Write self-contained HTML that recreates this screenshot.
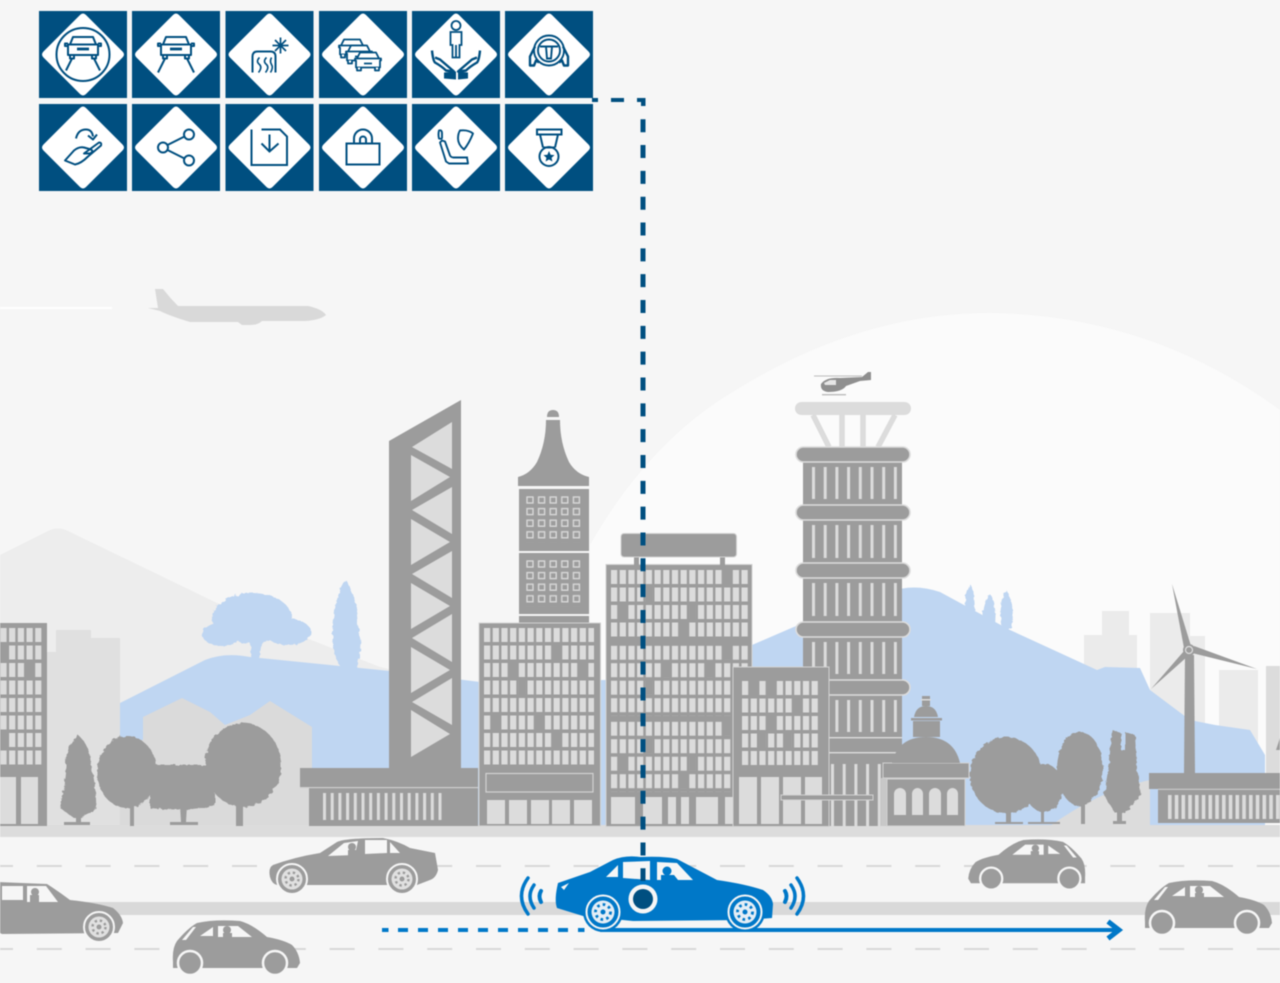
<!DOCTYPE html>
<html lang="en">
<head>
<meta charset="utf-8">
<title>City traffic diagram</title>
<style>
html,body{margin:0;padding:0;background:#f6f6f6;overflow:hidden}
svg{display:block;filter:blur(.45px)}
</style>
</head>
<body>
<svg xmlns="http://www.w3.org/2000/svg" width="1280" height="983" viewBox="0 0 1280 983">
<defs>
<pattern id="w" width="8.7" height="17.5" patternUnits="userSpaceOnUse"><rect width="6.2" height="14" fill="#dcdcdc"/></pattern>
<pattern id="sq" width="11.6" height="11.6" patternUnits="userSpaceOnUse"><rect x="1" y="1" width="6" height="6" fill="none" stroke="#d8d8d8" stroke-width="1.4"/></pattern>
<pattern id="vl" width="11.7" height="40" patternUnits="userSpaceOnUse"><rect width="3" height="40" fill="#dcdcdc"/></pattern>
<pattern id="vs" width="7.7" height="40" patternUnits="userSpaceOnUse"><rect width="3" height="40" fill="#dcdcdc"/></pattern>
<pattern id="vr" width="6.75" height="40" patternUnits="userSpaceOnUse"><rect width="3.6" height="40" fill="#dcdcdc"/></pattern>
<filter id="j" x="-10%" y="-10%" width="120%" height="120%"><feTurbulence type="fractalNoise" baseFrequency="0.22" numOctaves="2" seed="4"/><feDisplacementMap in="SourceGraphic" scale="4"/></filter>
<g id="carf" fill="none" stroke="#004f80" stroke-width="2" stroke-linejoin="round">
  <path d="M-10,-17.500H10L13,-10H-13Z"/>
  <path d="M-15,-10H15V0.500H-15Z"/>
  <path d="M-15,-11H-18V-8.500H-15M15,-11H18V-8.500H15"/>
  <path d="M-13,0.500V4H-9V0.500M13,0.500V4H9V0.500"/>
  <path d="M-6,-5.500H6" stroke-width="2.800"/>
</g>
<g id="car3" fill="#fff" stroke="#004f80" stroke-width="1.800" stroke-linejoin="round">
  <path d="M-8,-9H8L11,-3H13V-1H12V6H-12V-1H-13V-3H-11Z"/>
  <path d="M-11,-3H11M-4,2H4"/>
  <path d="M-11,6V9H-7V6M11,6V9H7V6"/>
</g>
<g id="smallcar">
  <path fill="#9c9c9c" d="M173,962Q172,948 177,941Q188,928 197,923Q215,919 240,921Q252,924 267,937Q284,940 292,945Q299,952 300,963L297,968H173Z"/>
  <path fill="#f6f6f6" d="M200,936L213,927V936ZM218,926H238L252,937H218Z"/>
  <path fill="#f6f6f6" d="M182,940L193,927L196,927L186,940Z"/>
  <circle cx="190" cy="963" r="12" fill="#9c9c9c" stroke="#f6f6f6" stroke-width="2.500"/>
  <circle cx="275" cy="963" r="12" fill="#9c9c9c" stroke="#f6f6f6" stroke-width="2.500"/>
  <circle cx="227" cy="930" r="4" fill="#9c9c9c"/><rect x="223" y="933" width="9" height="6" fill="#9c9c9c"/>
</g>
<g id="gw">
  <circle r="15" fill="#9c9c9c" stroke="#f6f6f6" stroke-width="2"/>
  <circle r="10.500" fill="#e0e0e0"/>
  <circle r="6.500" fill="none" stroke="#9c9c9c" stroke-width="2.400" stroke-dasharray="2.400 2.800"/>
  <circle r="2.500" fill="#9c9c9c"/>
</g>
<g id="bw">
  <circle r="20" fill="#0078c8"/>
  <circle r="16.500" fill="#0078c8" stroke="#f6f6f6" stroke-width="2"/>
  <circle r="11.500" fill="#e4eef6"/>
  <circle r="7.500" fill="none" stroke="#0078c8" stroke-width="2.800" stroke-dasharray="2.600 3.200"/>
  <circle r="2.500" fill="#0078c8"/>
</g>
<rect id="tile" x="-44" y="-43.500" width="88" height="87" fill="#004f80"/>
<path id="dia" d="M-3,-39.500Q0,-42.500 3,-39.500L39.500,-3Q42.500,0 39.500,3L3,39.500Q0,42.500 -3,39.500L-39.500,3Q-42.500,0 -39.500,-3Z" fill="#fff"/>
</defs>

<rect width="1280" height="983" fill="#f6f6f6"/>

<!-- far hill -->
<path d="M590,545Q650,440 736,390Q860,313 990,313Q1150,315 1280,410V830H590Z" fill="#fbfbfb"/>

<!-- plane -->
<line x1="0" y1="308" x2="112" y2="308" stroke="#fff" stroke-width="2"/>
<g fill="#d9d9d9">
  <path d="M148,308L158,308L155,289H163Q170,298 178,306H308Q322,309 326,315Q320,320 305,321H262Q258,325 250,325H242L238,322H190Q170,316 160,311Z"/>
</g>

<!-- pale mountain and background buildings -->
<path d="M0,555L48,531Q58,526 68,531L217,603L380,667L480,690V730H0Z" fill="#ededed"/>
<path d="M47,652H56V630H91V638H120V826H47Z" fill="#e0e0e0"/>
<g fill="#ebebeb">
  <path d="M1084,635H1102V611H1129V635H1137V700H1084Z"/>
  <path d="M1150,613H1190V636H1205V750H1150Z"/>
  <path d="M1219,670H1258V750H1219Z"/>
</g>
<rect x="1266" y="666" width="14" height="110" fill="#dcdcdc"/>

<!-- blue hill -->
<path d="M120,703L205,660Q225,652 250,657L400,672L480,682L606,680L752,645L803,623L890,592Q913,583 940,592L1010,630L1097,670L1105,667L1140,668L1150,690L1190,720L1215,725L1250,730L1265,755V826H120Z" fill="#bfd6f2"/>
<!-- blue trees -->
<g fill="#bfd6f2" filter="url(#j)">
  <ellipse cx="252" cy="618" rx="40" ry="25"/>
  <ellipse cx="222" cy="634" rx="20" ry="12"/>
  <ellipse cx="288" cy="632" rx="23" ry="13"/>
  <path d="M250,640H262L259,660H252Z"/>
  <path d="M343,670Q330,655 333,625Q335,595 346,580Q358,600 358,625Q364,650 355,670Z"/>
  <path d="M966,612Q963,595 970,584Q976,595 975,612Z"/>
  <path d="M984,625Q980,605 990,594Q997,605 995,625Z"/>
  <path d="M1002,628Q998,600 1006,590Q1014,600 1012,628Z"/>
</g>
<!-- pale houses -->
<path d="M143,717L182,698L210,712L225,725L250,715L270,701L312,727V826H120V740H143Z" fill="#dadada"/>
<path d="M1050,826Q1100,790 1150,780V826Z" fill="#dcdcdc"/>

<!-- ground -->
<rect y="825" width="1280" height="12" fill="#dcdcdc"/>

<!-- gray trees -->
<g fill="#9c9c9c">
  <g filter="url(#j)">
    <path d="M78,735Q90,745 91,765Q97,790 96,808L82,818H74L60,808Q65,785 66,765Q66,745 78,735Z"/>
    <ellipse cx="127" cy="772" rx="30" ry="36"/>
    <path d="M150,765H215V805Q190,812 150,808Z"/>
    <ellipse cx="243" cy="765" rx="38" ry="42"/>
    <ellipse cx="1006" cy="775" rx="36" ry="38"/>
    <ellipse cx="1044" cy="788" rx="19" ry="24"/>
    <ellipse cx="1080" cy="769" rx="23" ry="37"/>
    <path d="M1112,730L1121,733V750H1125V732L1135,735L1137,770L1141,795L1125,813H1115L1104,795L1109,765Z"/>
  </g>
  <rect x="76" y="812" width="5" height="12"/><rect x="64" y="822" width="26" height="3"/>
  <rect x="130" y="805" width="4" height="21"/>
  <path d="M180,805H187L186,822H198V825H170V822H181Z"/>
  <rect x="236" y="800" width="7" height="26"/>
  <rect x="1006" y="805" width="5" height="19"/><rect x="995" y="822" width="28" height="2"/>
  <rect x="1041" y="805" width="3" height="19"/><rect x="1028" y="822" width="32" height="2"/>
  <rect x="1081" y="800" width="4" height="24"/>
  <rect x="1117" y="810" width="5" height="14"/><rect x="1113" y="821" width="13" height="3"/>
</g>

<!-- left edge building -->
<g>
  <rect x="-2" y="623" width="49" height="203" fill="#9c9c9c"/>
  <g transform="translate(0.400,628)"><rect width="41" height="140" fill="url(#w)"/></g>
  <rect x="0" y="645" width="7" height="15" fill="#9c9c9c"/>
  <rect x="26" y="662" width="8" height="15" fill="#9c9c9c"/>
  <rect x="0" y="732" width="7" height="15" fill="#9c9c9c"/>
  <rect x="0" y="777" width="16" height="47" fill="#dcdcdc"/><rect x="21" y="777" width="17" height="47" fill="#dcdcdc"/>
</g>

<!-- truss tower -->
<path d="M389,441L461,400V768H389Z" fill="#9c9c9c"/>
<g fill="#dcdcdc">
  <path d="M412,447L452,422V469Z"/><path d="M411,455V501L450,477Z"/>
  <path d="M452,487V534L412,510Z"/><path d="M411,519V565L450,542Z"/>
  <path d="M452,551V598L412,574Z"/><path d="M411,583V629L450,606Z"/>
  <path d="M452,614V662L412,638Z"/><path d="M411,647V693L450,670Z"/>
  <path d="M452,678V725L412,702Z"/><path d="M411,710V757L450,734Z"/>
</g>
<rect x="300" y="768" width="178" height="19" fill="#9c9c9c"/>
<rect x="309" y="788" width="169" height="38" fill="#9c9c9c"/>
<rect x="300" y="787" width="178" height="1.200" fill="#cfcfcf"/>
<g transform="translate(323,793)"><rect width="121" height="27" fill="url(#vs)"/></g>

<!-- spire tower -->
<g>
  <path d="M518,486V477Q530,474 537,462Q546,443 546,420H560Q560,443 569,462Q576,474 589,477V486Z" fill="#9c9c9c"/>
  <path d="M547,417Q547,410 553,410Q559,410 559,417Z" fill="#9c9c9c"/>
  <rect x="519" y="489" width="70" height="62" fill="#9c9c9c"/>
  <rect x="519" y="553" width="70" height="61" fill="#9c9c9c"/>
  <rect x="519" y="616" width="70" height="8" fill="#9c9c9c"/>
  <g transform="translate(526,496)"><rect width="58" height="46.400" fill="url(#sq)"/></g>
  <g transform="translate(526,560)"><rect width="58" height="46.400" fill="url(#sq)"/></g>
</g>

<!-- building 3 -->
<rect x="479" y="623" width="121.500" height="203" fill="#9c9c9c" stroke="#d2d2d2"/>
<g transform="translate(484,628)">
  <rect width="110" height="140" fill="url(#w)"/>
  <path fill="#9c9c9c" d="M69.400,17.300h6.600v14.400h-6.600zM25.900,34.800h6.600v14.400h-6.600zM95.500,34.800h6.600v14.400h-6.600zM34.600,52.300h6.600v14.400h-6.600zM8.500,87.300h6.600v14.400h-6.600zM52,87.300h6.600v14.400h-6.600zM69.400,104.800h6.600v14.400h-6.600z"/>
</g>
<rect x="486" y="773.500" width="107" height="18.500" fill="none" stroke="#d2d2d2" stroke-width="1.200"/>
<g fill="#dcdcdc"><rect x="487" y="800" width="18" height="24"/><rect x="509" y="800" width="18" height="24"/><rect x="531" y="800" width="18" height="24"/><rect x="552" y="800" width="18" height="24"/><rect x="574" y="800" width="18" height="24"/></g>

<!-- building 4 -->
<rect x="606" y="564.500" width="146" height="262" fill="#9c9c9c" stroke="#d2d2d2"/>
<rect x="634" y="556" width="5" height="9" fill="#9c9c9c"/><rect x="720" y="556" width="5" height="9" fill="#9c9c9c"/>
<rect x="621" y="533.500" width="115.500" height="23.500" rx="3" fill="#9c9c9c" stroke="#d2d2d2"/>
<g transform="translate(611,570)">
  <rect width="139" height="70" fill="url(#w)"/>
  <path fill="#9c9c9c" d="M112.900,-.2h6.600v14.400h-6.600zM34.600,17.300h6.600v14.400h-6.600zM8.500,34.800h6.600v14.400h-6.600zM78.100,34.800h6.600v14.400h-6.600zM69.400,52.300h6.600v14.400h-6.600z"/>
</g>
<g transform="translate(611,645.700)">
  <rect width="139" height="70" fill="url(#w)"/>
  <path fill="#9c9c9c" d="M112.900,-.2h6.600v14.400h-6.600zM52,17.300h6.600v14.400h-6.600zM95.500,17.300h6.600v14.400h-6.600zM34.600,34.800h6.600v14.400h-6.600z"/>
</g>
<g transform="translate(611,721.700)">
  <rect width="122" height="70" fill="url(#w)"/>
  <path fill="#9c9c9c" d="M112.900,-.2h6.600v14.400h-6.600zM34.600,17.300h6.600v14.400h-6.600zM8.500,34.800h6.600v14.400h-6.600zM78.100,34.800h6.600v14.400h-6.600zM69.400,52.300h6.600v14.400h-6.600z"/>
</g>
<g fill="#dcdcdc"><rect x="611" y="797" width="24" height="27"/><rect x="643" y="797" width="19" height="27"/><rect x="668" y="797" width="8" height="27"/><rect x="681" y="797" width="8" height="27"/><rect x="696" y="797" width="22" height="27"/><rect x="725" y="797" width="8" height="27"/></g>

<!-- striped tower -->
<g>
  <rect x="795" y="402" width="116" height="13" rx="6.500" fill="#dcdcdc"/>
  <g stroke="#dcdcdc" stroke-width="5.500" fill="none">
    <path d="M813,415L829,447M842,415V447M863,415V447M895,415L878,447"/>
  </g>
  <rect x="803" y="462" width="99" height="364" fill="#9c9c9c"/>
  <g transform="translate(812,467)"><rect width="85" height="32" fill="url(#vl)"/></g>
  <g transform="translate(812,525)"><rect width="85" height="33" fill="url(#vl)"/></g>
  <g transform="translate(812,583)"><rect width="85" height="33" fill="url(#vl)"/></g>
  <g transform="translate(812,642)"><rect width="85" height="32" fill="url(#vl)"/></g>
  <g transform="translate(812,700)"><rect width="85" height="32" fill="url(#vl)"/></g>
  <g fill="#9c9c9c" stroke="#dcdcdc" stroke-width="1.600">
    <rect x="796" y="447" width="114" height="15" rx="7.500"/>
    <rect x="796" y="505" width="114" height="15" rx="7.500"/>
    <rect x="796" y="563" width="114" height="15" rx="7.500"/>
    <rect x="796" y="622" width="114" height="15" rx="7.500"/>
    <rect x="796" y="680" width="114" height="15" rx="7.500"/>
  </g>
  <rect x="803" y="737" width="99" height="1.400" fill="#dcdcdc"/>
  <rect x="803" y="752" width="99" height="1.400" fill="#dcdcdc"/>
  <g transform="translate(831,764)"><rect width="50" height="62" fill="url(#vl)"/></g>
</g>

<!-- helicopter -->
<g fill="#8f8f8f">
  <path d="M821,384Q826,377 840,378L862,377L868,372H871V380L860,381L846,386Q842,392 828,392Q820,391 821,384Z"/>
  <rect x="814" y="375.500" width="48" height="1" fill="#bcbcbc"/>
  <rect x="822" y="394" width="24" height="1.400" fill="#bcbcbc"/>
  <path d="M824,383L830,380H836V385H825Z" fill="#e6e6e6"/>
</g>

<!-- building 5 -->
<rect x="733" y="667" width="96" height="159.500" fill="#9c9c9c" stroke="#d2d2d2"/>
<g transform="translate(742,681)">
  <rect width="78" height="87" fill="url(#w)"/>
  <path fill="#9c9c9c" d="M8.500,-.2h6.600v14.400h-6.600zM25.900,-.2h6.600v14.400h-6.600zM52,17.300h6.600v14.400h-6.600zM25.900,34.800h6.600v14.400h-6.600zM17.200,52.300h6.600v14.400h-6.600zM43.300,52.300h6.600v14.400h-6.600z"/>
</g>
<g fill="#dcdcdc"><rect x="739" y="777" width="18" height="47"/><rect x="761" y="777" width="18" height="47"/><rect x="783" y="777" width="18" height="47"/><rect x="805" y="777" width="17" height="47"/></g>
<rect x="781" y="795" width="92" height="5" fill="#9c9c9c" stroke="#d2d2d2"/>

<!-- domed building -->
<g fill="#9c9c9c">
  <rect x="881" y="778" width="6" height="48" fill="#c8c8c8"/>
  <rect x="887" y="779" width="78" height="47" stroke="#d2d2d2"/>
  <rect x="883" y="763" width="86" height="15" stroke="#d2d2d2"/>
  <path d="M892,763Q898,737 926,737Q954,737 960,763Z"/>
  <rect x="913" y="721" width="27" height="16"/>
  <rect x="911" y="718" width="31" height="2.500"/>
  <path d="M914,717Q916,706 926,706Q936,706 938,717Z"/>
  <rect x="922" y="696" width="8" height="10"/>
  <rect x="921" y="699" width="10" height="1.500" fill="#dcdcdc"/>
  <g fill="#dcdcdc">
    <path d="M894,815V794a6,6 0 0 1 12,0V815Z"/>
    <path d="M912,815V794a5.500,6 0 0 1 11,0V815Z"/>
    <path d="M929,815V794a6,6 0 0 1 12,0V815Z"/>
    <path d="M947,815V794a5.500,6 0 0 1 11,0V815Z"/>
  </g>
</g>

<!-- turbine and base -->
<g fill="#9c9c9c">
  <path d="M1185,655H1194L1195,773H1184Z"/>
  <path d="M1172,584L1191,646L1184,648Z"/>
  <path d="M1257,669L1194,646L1192,653Z"/>
  <path d="M1151,689L1184,651L1188,656Z"/>
  <circle cx="1189" cy="650" r="6"/>
  <circle cx="1189" cy="650" r="3.500" fill="none" stroke="#dcdcdc" stroke-width="1.200"/>
  <rect x="1149" y="773" width="131" height="16"/>
  <rect x="1158" y="789" width="122" height="34"/>
  <path d="M1276,750L1280,738V750Z"/>
</g>
<rect x="1158" y="788.800" width="122" height="1" fill="#cfcfcf"/>
<g transform="translate(1168,795)"><rect width="112" height="24" fill="url(#vr)"/></g>

<!-- road -->
<rect y="902" width="1280" height="13" fill="#d9d9d9"/>
<g stroke="#d8d8d8" stroke-width="2" stroke-dasharray="25 23.800">
  <line x1="-12" y1="866" x2="1280" y2="866"/>
  <line x1="-12" y1="949" x2="1280" y2="949"/>
</g>

<!-- gray cars -->
<g>
  <path fill="#9c9c9c" d="M270,877Q268,868 273,865Q295,857 320,853L337,842Q345,838 383,838Q398,841 410,848L435,853L438,870Q436,878 430,880L417,885H277Q272,884 270,877Z"/>
  <path fill="#f6f6f6" d="M328,856L344,843L358,841L355,855ZM365,840H387V853L365,854ZM390,842L400,853H390Z"/>
  <circle cx="352" cy="847" r="4" fill="#9c9c9c"/><rect x="348" y="850" width="8" height="6" fill="#9c9c9c"/>
  <use href="#gw" x="292" y="879"/><use href="#gw" x="402" y="879"/>
</g>
<g>
  <path fill="#9c9c9c" d="M-2,882L47,884Q58,891 70,900Q98,903 113,908Q122,915 123,923L118,933L2,934Q0,933 -2,932Z"/>
  <path fill="#f6f6f6" d="M2,886H23V900H2ZM27,886H46L58,902H27Z"/>
  <circle cx="35" cy="892" r="4" fill="#9c9c9c"/><rect x="30" y="895" width="9" height="8" fill="#9c9c9c"/>
  <use href="#gw" x="99" y="927"/>
</g>
<use href="#smallcar"/>
<use href="#smallcar" transform="translate(972,-40)"/>
<use href="#smallcar" transform="translate(1244.200,-7.300) scale(-.92,.92)"/>

<!-- blue path -->
<line x1="382" y1="930" x2="592" y2="930" stroke="#0078c8" stroke-width="4" stroke-dasharray="6.500 9.500 10 10 10 10 10 10 10 10 10 10 10 10 10 10 10 10 10 10"/>
<line x1="600" y1="930" x2="1116" y2="930" stroke="#0078c8" stroke-width="4"/>
<path d="M1108,921.500L1119,930L1108,938.500" fill="none" stroke="#0078c8" stroke-width="5"/>

<!-- blue car -->
<g>
  <path fill="#0078c8" d="M557,908Q554,900 558,883L590,872L613,860Q625,855 640,857Q665,856 677,859L717,880Q745,884 763,890Q772,896 773,904L772,918L745,920L633,921L583,916Z"/>
  <path fill="#f6f6f6" d="M606,877L618,865V877ZM623,862L650,861V880L623,878ZM657,862L677,863L693,880H657Z"/>
  <path fill="#f6f6f6" d="M561,887L569,883L564,890Z"/>
  <circle cx="667" cy="871" r="4.500" fill="#0078c8"/><path d="M661,875H674L678,880H661Z" fill="#0078c8"/>
  <use href="#bw" x="603" y="912"/>
  <use href="#bw" x="745" y="912"/>
  <circle cx="643" cy="899" r="14.500" fill="#f6f6f6"/>
  <circle cx="643" cy="899" r="10" fill="#004f80"/>
</g>
<g fill="none" stroke="#0078c8" stroke-width="3.500" stroke-linecap="round">
  <path d="M528,878Q515,896 528,914"/>
  <path d="M534,885Q526,896 534,908"/>
  <path d="M541,891Q538,896 541,902" stroke-width="4"/>
  <path d="M797,878Q810,896 797,914"/>
  <path d="M791,885Q799,896 791,908"/>
  <path d="M785,891Q788,896 785,902" stroke-width="4"/>
</g>

<!-- dashed connector -->
<g fill="#004f80">
  <rect x="592" y="98" width="6" height="4"/>
  <rect x="611" y="98" width="13" height="4"/>
  <path d="M637,98H645.500V106H641V102H637Z"/>
</g>
<line x1="643" y1="119.200" x2="643" y2="881" stroke="#004f80" stroke-width="5" stroke-dasharray="13 12.830"/>

<!-- icon tiles -->
<g transform="translate(83,54.500)">
  <use href="#tile"/><use href="#dia"/>
  <circle r="26.500" fill="none" stroke="#004f80" stroke-width="2"/>
  <use href="#carf"/>
  <path d="M-11,4L-17,16M11,4L17,16" stroke="#004f80" stroke-width="2" fill="none"/>
</g>
<g transform="translate(176,54.500)">
  <use href="#tile"/><use href="#dia"/>
  <use href="#carf"/>
  <path d="M-11,4L-18,18M11,4L18,18" stroke="#004f80" stroke-width="2" fill="none"/>
</g>
<g transform="translate(269.500,54.500)">
  <use href="#tile"/><use href="#dia"/>
  <g fill="none" stroke="#004f80" stroke-width="2">
    <path d="M-17,18V2Q-17,-3 -12,-3H1Q6,-3 6,2V18"/>
    <path d="M-10,3Q-14,7 -10,10Q-7,13 -11,18M-3,3Q-7,7 -3,10Q0,13 -4,18M2,3Q0,7 2,10Q4,13 1,18" stroke-width="1.600"/>
    <path d="M11,-17V-1M3,-9H19M5.500,-14.500L16.500,-3.500M16.500,-14.500L5.500,-3.500" stroke-width="1.700"/>
  </g>
</g>
<g transform="translate(363,54.500)">
  <use href="#tile"/><use href="#dia"/>
  <use href="#car3" x="-11" y="-6"/>
  <use href="#car3" x="-4" y="0"/>
  <use href="#car3" x="5" y="7"/>
</g>
<g transform="translate(456,54.500)">
  <use href="#tile"/><use href="#dia"/>
  <g fill="none" stroke="#004f80" stroke-width="1.800">
    <circle cy="-29" r="4.500"/>
    <path d="M-5.500,-22.500H5.500V-9.500H3.500V3H-3.500V-9.500H-5.500ZM0,-9.500V3"/>
  </g>
  <g fill="none" stroke="#004f80" stroke-width="2.400" stroke-linejoin="round">
    <path d="M-24,-4Q-23,6 -21,8Q-14,12 -10,16L-2,17L-16,5L-21,3"/>
    <path d="M24,-4Q23,6 21,8Q14,12 10,16L2,17L16,5L21,3"/>
  </g>
  <g fill="#004f80">
    <path d="M-12,18L0,17V25L-12,24Z"/>
    <path d="M12,18L2,17V25L12,24Z"/>
  </g>
</g>
<g transform="translate(549,54.500)">
  <use href="#tile"/><use href="#dia"/>
  <g fill="none" stroke="#004f80" stroke-width="1.900">
    <circle cy="-4" r="15"/><circle cy="-4" r="11"/>
    <path d="M-9,-8H9M-3,-8L-2,4H2L3,-8"/>
  </g>
  <g fill="none" stroke="#004f80" stroke-width="2.400" stroke-linejoin="round">
    <path d="M-14,-8L-19,2L-19,11H-15L-13,6L-10,8"/>
    <path d="M14,-8L19,2L19,11H15L13,6L10,8"/>
  </g>
</g>
<g transform="translate(83,147.500)">
  <use href="#tile"/><use href="#dia"/>
  <g fill="none" stroke="#004f80" stroke-width="2" stroke-linejoin="round">
    <path d="M-18,13L-9,3Q-4,-1 1,0L8,2Q11,4 7,6L1,6L16,-5Q19,-5 18,-2L5,9Q-2,16 -8,17Z"/>
    <path d="M-7,-9Q-5,-18 3,-18Q9,-18 10,-11"/>
    <path d="M5,-12L10,-8L14,-13"/>
  </g>
</g>
<g transform="translate(176,147.500)">
  <use href="#tile"/><use href="#dia"/>
  <g fill="none" stroke="#004f80" stroke-width="2">
    <circle cx="-13" r="5"/><circle cx="13" cy="-13" r="5"/><circle cx="13" cy="13" r="5"/>
    <path d="M-8.500,-2.500L8.500,-11M-8.500,2.500L8.500,11"/>
  </g>
</g>
<g transform="translate(269.500,147.500)">
  <use href="#tile"/><use href="#dia"/>
  <g fill="none" stroke="#004f80" stroke-width="2">
    <path d="M-18,-18V17.500H17.500V-11L10.500,-18H-8"/>
    <path d="M0,-13V4M-8,-4L0,4L9,-4"/>
  </g>
</g>
<g transform="translate(363,147.500)">
  <use href="#tile"/><use href="#dia"/>
  <g fill="none" stroke="#004f80" stroke-width="2">
    <rect x="-16.500" y="-4" width="33" height="21"/>
    <path d="M-9,-4V-9A9,9 0 0 1 9,-9V-4M-3,-4V-8A3,3 0 0 1 3,-8V-4"/>
  </g>
</g>
<g transform="translate(456,147.500)">
  <use href="#tile"/><use href="#dia"/>
  <g fill="none" stroke="#004f80" stroke-width="1.900" stroke-linejoin="round">
    <path d="M-17,-17Q-14,-18 -14,-14V-10Q-14,-8 -17,-9Q-18,-13 -17,-17Z"/>
    <path d="M-14,-7L-11,-6L-6,8Q-5,10 -2,10H11L12,16H-7L-10,14L-16,-5Z"/>
    <path d="M-3,10H12"/>
    <path d="M4,-17Q12,-18 17,-14Q13,-4 8,2Q2,-3 2,-9Q2,-14 4,-17Z"/>
  </g>
</g>
<g transform="translate(549,147.500)">
  <use href="#tile"/><use href="#dia"/>
  <g fill="none" stroke="#004f80" stroke-width="2">
    <rect x="-12" y="-18" width="24.500" height="5"/>
    <path d="M-9,-13L-6,0M9,-13L6,0M-6,0H6"/>
    <circle cy="9" r="9.500"/>
  </g>
  <path d="M0,3.500L1.600,7.200L5.500,7.600L2.600,10.200L3.400,14L0,12L-3.400,14L-2.600,10.200L-5.500,7.600L-1.600,7.200Z" fill="#004f80"/>
</g>
</svg>
</body>
</html>
